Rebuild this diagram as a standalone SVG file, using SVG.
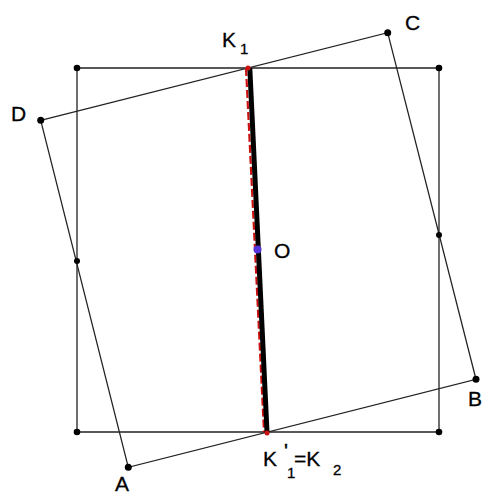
<svg xmlns="http://www.w3.org/2000/svg" width="483" height="495" viewBox="0 0 483 495">
<style>
.ln{stroke:#222;stroke-width:1.3;fill:none}
.dot{fill:#000}
.lbl{font-family:"Liberation Sans",Arial,sans-serif;font-size:21px;fill:#000;stroke:#000;stroke-width:0.3}
.sub{font-size:15px}
</style>
<rect width="483" height="495" fill="#fff"/>
<g id="connectors">
<polygon class="ln" points="77,68 439,68 439,432 77,432"/>
<polygon class="ln" points="40.7,120.3 387.7,32.7 476,379.3 128.3,467.3"/>
<line x1="246" y1="68" x2="264" y2="432" stroke="#cc1111" stroke-width="2.2" stroke-dasharray="8,3"/>
<line x1="249.8" y1="68" x2="267" y2="432" stroke="#000" stroke-width="5"/>
</g>
<g id="square-corners">
<circle class="dot" cx="77" cy="68" r="3.3"/>
<circle class="dot" cx="439" cy="68" r="3.3"/>
<circle class="dot" cx="439" cy="432" r="3.3"/>
<circle class="dot" cx="77" cy="432" r="3.3"/>
<circle class="dot" cx="77" cy="261" r="3"/>
<circle class="dot" cx="439" cy="235" r="3"/>
</g>
<g id="node-D"><circle class="dot" cx="40.7" cy="120.3" r="3.5"/><text class="lbl" x="11" y="121">D</text></g>
<g id="node-C"><circle class="dot" cx="387.7" cy="32.7" r="3.5"/><text class="lbl" x="405" y="30">C</text></g>
<g id="node-B"><circle class="dot" cx="476" cy="379.3" r="3.5"/><text class="lbl" x="468" y="406">B</text></g>
<g id="node-A"><circle class="dot" cx="128.3" cy="467.3" r="3.5"/><text class="lbl" x="115" y="491">A</text></g>
<g id="node-K1"><circle cx="248" cy="68" r="2.5" fill="#cc1111"/><text class="lbl" x="222" y="47">K<tspan class="sub" x="240" y="54">1</tspan></text></g>
<g id="node-O"><circle cx="257.5" cy="249.5" r="4" fill="#5533dd"/><text class="lbl" x="274" y="258">O</text></g>
<g id="node-K2"><circle cx="267" cy="433" r="2.5" fill="#cc1111"/><text class="lbl" x="263" y="466">K<tspan x="284" y="458">'</tspan><tspan class="sub" x="287" y="478">1</tspan><tspan x="294" y="466">=K</tspan><tspan class="sub" x="333" y="475">2</tspan></text></g>
</svg>
